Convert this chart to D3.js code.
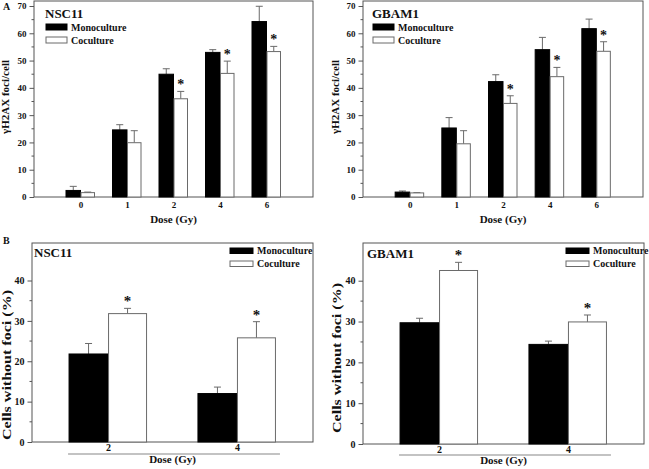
<!DOCTYPE html>
<html><head><meta charset="utf-8">
<script src="https://cdn.jsdelivr.net/npm/d3@7"></script>
<style>
body{margin:0;background:#fff}
svg{display:block}
text{font-family:"Liberation Serif","Times New Roman",serif;font-weight:bold;fill:#111}
</style>
</head><body>
<svg id="c" width="649" height="469"></svg>
<script>
// ---------- data ----------
const dosesA = ["0","1","2","4","6"];
const nscMonoA    = [2.4, 24.6, 45.0, 53.0, 64.3];
const nscMonoAErr = [1.5, 1.9, 2.0, 1.0, 5.6];
const nscCoA      = [1.6, 19.9, 36.0, 45.3, 53.3];
const nscCoAErr   = [0.2, 4.4, 2.7, 4.5, 1.9];
const gbMonoA     = [1.8, 25.3, 42.3, 54.0, 61.7];
const gbMonoAErr  = [0.4, 3.8, 2.5, 4.5, 3.5];
const gbCoA       = [1.5, 19.5, 34.3, 44.1, 53.4];
const gbCoAErr    = [0.1, 4.8, 2.8, 3.4, 3.5];
const sigA        = [false, false, true, true, true];
const ticksA      = [0,10,20,30,40,50,60,70];

const dosesB = ["2","4"];
const nscMonoB    = [21.8, 12.0];
const nscMonoBErr = [2.6, 1.6];
const nscCoB      = [31.8, 25.8];
const nscCoBErr   = [1.3, 4.0];
const gbMonoB     = [29.7, 24.4];
const gbMonoBErr  = [1.1, 0.8];
const gbCoB       = [42.5, 29.9];
const gbCoBErr    = [2.0, 1.7];
const sigB        = [true, true];
const ticksB      = [0,10,20,30,40];

const seriesNames = ["Monoculture","Coculture"];

// ---------- drawing ----------
const svg = d3.select("#c");
const FRAME = "#555", GREY = "#6a6a6a";

function panel(o){
  const g = svg.append("g");
  const x = d3.scalePoint().domain(o.cats).range([o.x0,o.x1]).padding(o.pad);
  const y = d3.scaleLinear().domain([0,o.tickMax]).range([o.yb,o.yTickMaxPos]);
  const bw = o.bw;

  // minor ticks
  const minors = d3.range(5, o.tickMax, 10);
  g.selectAll(".mn").data(minors).enter().append("line")
    .attr("x1",o.x0-2.5).attr("x2",o.x0).attr("y1",d=>y(d)).attr("y2",d=>y(d))
    .attr("stroke",FRAME).attr("stroke-width",1);

  // y axis
  const ya = g.append("g").attr("transform",`translate(${o.x0},0)`)
    .call(d3.axisLeft(y).tickValues(o.ticks).tickSize(4.5).tickPadding(3).tickFormat(d3.format("d")));
  ya.select(".domain").remove();
  ya.selectAll("line").attr("stroke",FRAME);
  ya.selectAll("text").attr("font-size",o.tf).attr("fill","#111");

  // x axis labels
  const xa = g.append("g").attr("transform",`translate(0,${o.yb})`)
    .call(d3.axisBottom(x).tickSize(0).tickPadding(o.xpad));
  xa.select(".domain").remove();
  xa.selectAll("text").attr("font-size",o.tf).attr("fill","#111");

  // frame
  g.append("rect").attr("x",o.x0).attr("y",o.yt).attr("width",o.x1-o.x0).attr("height",o.yb-o.yt)
    .attr("fill","none").attr("stroke",FRAME).attr("stroke-width",1);

  const rows = o.cats.map((c,i)=>({c,i}));
  const groups = [
    {vals:o.mono, errs:o.monoErr, fill:"#000", stroke:"#000", off:-bw},
    {vals:o.co,   errs:o.coErr,   fill:"#fff", stroke:GREY,  off:0}
  ];
  groups.forEach(s=>{
    rows.forEach(r=>{
      const cx = x(r.c)+s.off+bw/2;
      const top = y(s.vals[r.i]+s.errs[r.i]);
      g.append("line").attr("x1",cx).attr("x2",cx).attr("y1",y(s.vals[r.i])).attr("y2",top)
        .attr("stroke",GREY).attr("stroke-width",1);
      g.append("line").attr("x1",cx-o.cap).attr("x2",cx+o.cap).attr("y1",top).attr("y2",top)
        .attr("stroke",GREY).attr("stroke-width",1);
    });
    g.selectAll(null).data(rows).enter().append("rect")
      .attr("x",r=>x(r.c)+s.off+(s.fill==="#fff"?0.5:0))
      .attr("y",r=>y(s.vals[r.i]))
      .attr("width",bw-(s.fill==="#fff"?1:0))
      .attr("height",r=>o.yb-y(s.vals[r.i]))
      .attr("fill",s.fill).attr("stroke",s.stroke).attr("stroke-width",1);
  });
  rows.filter(r=>o.sig[r.i]).forEach(r=>{
    g.append("text").attr("x",x(r.c)+bw/2).attr("y",y(o.co[r.i]+o.coErr[r.i])-2)
      .attr("text-anchor","middle").attr("font-size",o.sf).text("*");
  });

  g.append("text").attr("x",o.titleX).attr("y",o.titleY).attr("font-size",o.titleF).text(o.title);

  seriesNames.forEach((n,i)=>{
    const ly = o.legY + i*o.legDy;
    g.append("rect").attr("x",o.legX).attr("y",ly).attr("width",o.legW).attr("height",o.legH)
      .attr("fill",i===0?"#000":"#fff").attr("stroke",i===0?"#000":GREY).attr("stroke-width",1);
    g.append("text").attr("x",o.legX+o.legW+4).attr("y",ly+o.legH/2+3.6)
      .attr("font-size",o.legF).text(n);
  });

  g.append("text").attr("transform",`translate(${o.ytX},${o.ytY}) rotate(-90)`)
    .attr("text-anchor","middle").attr("font-size",o.ytF)
    .attr("textLength",o.ytLen).attr("lengthAdjust","spacingAndGlyphs").text(o.yTitle);
  g.append("text").attr("x",(o.x0+o.x1)/2).attr("y",o.xtY).attr("text-anchor","middle")
    .attr("font-size",o.xtF).text("Dose (Gy)");

  if(o.baseLine){
    const a = x(o.cats[0])-bw-1, b = x(o.cats[o.cats.length-1])+bw+4;
    g.append("line").attr("x1",a).attr("x2",b).attr("y1",o.baseLine).attr("y2",o.baseLine)
      .attr("stroke","#888").attr("stroke-width",1.2);
  }
  return g;
}

const commonA = {cats:dosesA, pad:1, tickMax:70, ticks:ticksA, yb:197, yt:1, yTickMaxPos:6,
  bw:14.5, cap:3.5, tf:9, sf:14, sig:sigA, titleF:13, legF:10, legW:21, legH:6, legDy:13,
  ytF:11, ytLen:74, ytY:97, xtY:223, xtF:11, xpad:5};

panel(Object.assign({}, commonA, {x0:34, x1:313, mono:nscMonoA, monoErr:nscMonoAErr, co:nscCoA, coErr:nscCoAErr,
  title:"NSC11", titleX:45, titleY:18, legX:46, legY:24, ytX:9, yTitle:"γH2AX foci/cell"}));
panel(Object.assign({}, commonA, {x0:363, x1:643, mono:gbMonoA, monoErr:gbMonoAErr, co:gbCoA, coErr:gbCoAErr,
  title:"GBAM1", titleX:372, titleY:18, legX:373, legY:24, ytX:339, yTitle:"γH2AX foci/cell"}));

const commonB = {cats:dosesB, pad:0.59, tickMax:40, ticks:ticksB, yt:243,
  bw:39, cap:3.5, tf:10, sf:15, sig:sigB, titleF:13, legF:10, legW:23, legH:5.5, legDy:13,
  ytF:12, ytLen:150, xtF:11, xpad:2};

panel(Object.assign({}, commonB, {x0:32, x1:313, yb:442, yTickMaxPos:280.5,
  mono:nscMonoB, monoErr:nscMonoBErr, co:nscCoB, coErr:nscCoBErr,
  title:"NSC11", titleX:34, titleY:257, legX:230, legY:248, ytX:11, ytY:365, yTitle:"Cells without foci (%)",
  xtY:463, baseLine:454}));
panel(Object.assign({}, commonB, {x0:363, x1:644, yb:444, yTickMaxPos:280.7,
  mono:gbMonoB, monoErr:gbMonoBErr, co:gbCoB, coErr:gbCoBErr,
  title:"GBAM1", titleX:367, titleY:258, legX:566, legY:248, ytX:341, ytY:358, yTitle:"Cells without foci (%)",
  xtY:464, baseLine:455}));

svg.append("text").attr("x",3).attr("y",10).attr("font-size",10).text("A");
svg.append("text").attr("x",3).attr("y",244).attr("font-size",10).text("B");
</script>
</body></html>
